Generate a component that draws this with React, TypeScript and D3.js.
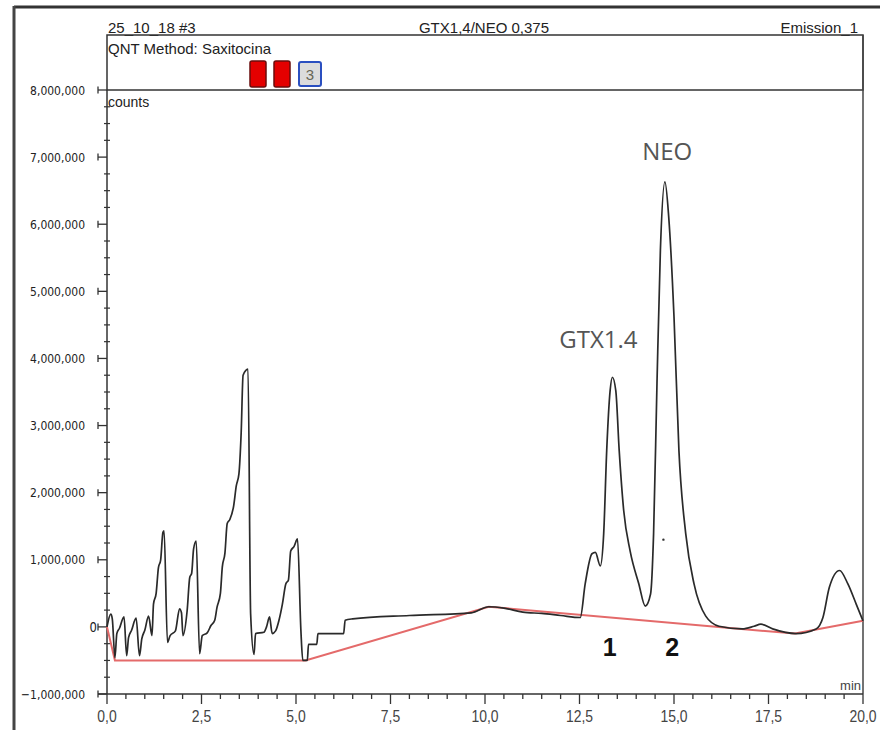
import * as d3 from 'd3';

// chromatogram values: [minutes, counts in millions]
const earlyTrace: [number, number][] = [
  [0, 0], [0.1, 0.19], [0.14, 0.12], [0.21, -0.46], [0.26, -0.1], [0.33, -0.02], [0.45, 0.15],
  [0.52, -0.43], [0.57, -0.16], [0.65, -0.05], [0.77, 0.13], [0.86, -0.43], [0.92, -0.18],
  [1.0, -0.05], [1.1, 0.16], [1.19, -0.13], [1.23, 0.34], [1.3, 0.5], [1.36, 0.88], [1.42, 1.0],
  [1.48, 1.41], [1.51, 1.43], [1.6, -0.23], [1.67, -0.13], [1.81, -0.06], [1.92, 0.27],
  [1.97, 0.21], [2.01, -0.13], [2.12, 0.24], [2.19, 0.74], [2.24, 0.8], [2.29, 1.16],
  [2.36, 1.28], [2.45, -0.4], [2.52, -0.13], [2.65, -0.09], [2.75, 0.02], [2.85, 0.1],
  [2.91, 0.29], [3.0, 0.5], [3.05, 0.89], [3.12, 1.1], [3.18, 1.54], [3.25, 1.6], [3.35, 1.8],
  [3.42, 2.1], [3.49, 2.28], [3.55, 2.9], [3.6, 3.75], [3.73, 3.84], [3.8, 0.19], [3.89, -0.41],
  [3.93, -0.1], [4.15, -0.08], [4.22, 0.0], [4.3, 0.15], [4.37, -0.1], [4.46, -0.06], [4.55, 0.1],
  [4.64, 0.34], [4.73, 0.64], [4.8, 0.7], [4.86, 1.13], [4.95, 1.2], [5.04, 1.31], [5.13, -0.06],
  [5.18, -0.5], [5.3, -0.5], [5.33, -0.26], [5.55, -0.26], [5.58, -0.1], [6.26, -0.1],
  [6.3, 0.1], [6.5, 0.12], [8.0, 0.17], [9.64, 0.21], [10.1, 0.3], [10.5, 0.28],
  [11.0, 0.22], [11.5, 0.2], [12.0, 0.17],
];

const peakTrace: [number, number][] = [
  [12.52, 0.14], [12.65, 0.64], [12.83, 1.09], [12.92, 1.11], [13.05, 0.91], [13.14, 1.39],
  [13.22, 2.63], [13.31, 3.52], [13.37, 3.72], [13.46, 3.52], [13.55, 2.63], [13.67, 1.73],
  [13.84, 1.13], [14.07, 0.64], [14.24, 0.31], [14.38, 0.49], [14.46, 1.39], [14.55, 3.63],
  [14.64, 5.61], [14.76, 6.63], [14.86, 6.11], [15.0, 4.62], [15.13, 2.63], [15.31, 1.39],
  [15.53, 0.64], [15.84, 0.16], [16.19, 0.01], [16.81, -0.03], [17.12, 0.01], [17.3, 0.04],
  [17.61, -0.03], [18.23, -0.1], [18.76, -0.03], [18.94, 0.14], [19.11, 0.59], [19.38, 0.84],
  [19.6, 0.64], [19.82, 0.34], [20.0, 0.09],
];

const baselinePoints: [number, number][] = [
  [0, 0], [0.21, -0.5], [5.25, -0.5], [10.1, 0.3], [18.2, -0.1], [20, 0.09],
];

const yTicks = [-1, 0, 1, 2, 3, 4, 5, 6, 7, 8];
const xTicks = [0, 2.5, 5, 7.5, 10, 12.5, 15, 17.5, 20];

const peakNumbers = [
  { label: '1', time: 13.3 },
  { label: '2', time: 14.95 },
];
const peakNames = [
  { label: 'GTX1.4', time: 13.0, value: 4.15 },
  { label: 'NEO', time: 14.82, value: 6.95 },
];
const strayDot: [number, number] = [14.72, 1.3];

const headerLeft = '25_10_18 #3';
const headerCenter = 'GTX1,4/NEO 0,375';
const headerRight = 'Emission_1';
const methodLabel = 'QNT Method: Saxitocina';

const W = 880;
const H = 730;
const left = 107;
const right = 863;
const plotTop = 90;
const plotBottom = 694;
const boxTop = 35;

export default function App() {
  const x = d3.scaleLinear().domain([0, 20]).range([left, right]);
  const y = d3.scaleLinear().domain([-1, 8]).range([plotBottom, plotTop]);

  const line = d3.line<[number, number]>()
    .x(d => x(d[0]))
    .y(d => y(d[1]))
    .curve(d3.curveMonotoneX);
  const straight = d3.line<[number, number]>()
    .x(d => x(d[0]))
    .y(d => y(d[1]));

  const trace = [...earlyTrace, ...peakTrace];
  const fmtCounts = d3.format(',');
  const fmtMin = (v: number) => d3.format('.1f')(v).replace('.', ',');

  const yMinor = d3.range(-1, 8.001, 0.25).filter(v => Math.abs(v - Math.round(v)) > 0.01);
  const xMinor = d3.range(0, 20.001, 0.5).filter(v => Math.abs(v / 2.5 - Math.round(v / 2.5)) > 0.01);

  const sans = 'Liberation Sans, Arial, sans-serif';

  return (
    <svg width={W} height={H} style={{ position: 'absolute', left: 0, top: 0, background: '#fff' }}>
      {/* outer frame */}
      <line x1={14} x2={W} y1={7} y2={7} stroke="#333" strokeWidth={3} />
      <line x1={14} x2={14} y1={6} y2={H} stroke="#444" strokeWidth={3} />

      {/* header */}
      <g fontFamily={sans} fontSize={15} fill="#222">
        <text x={108} y={33}>{headerLeft}</text>
        <text x={484} y={33} textAnchor="middle">{headerCenter}</text>
        <text x={858} y={33} textAnchor="end">{headerRight}</text>
        <text x={108} y={54}>{methodLabel}</text>
      </g>
      <rect x={left} y={boxTop} width={right - left} height={plotTop - boxTop} fill="none" stroke="#333" strokeWidth={1.5} />
      <rect x={250} y={61} width={16} height={26} rx={2} fill="#e40000" stroke="#6a0c0c" strokeWidth={1.5} />
      <rect x={274} y={61} width={16} height={26} rx={2} fill="#e40000" stroke="#6a0c0c" strokeWidth={1.5} />
      <rect x={299} y={62} width={22} height={24} rx={2} fill="#dcdcdc" stroke="#2a4fc0" strokeWidth={2} />
      <text x={310} y={80} textAnchor="middle" fontFamily={sans} fontSize={15} fill="#665">3</text>

      {/* plot frame */}
      <line x1={right} x2={right} y1={boxTop} y2={plotBottom} stroke="#444" strokeWidth={1.5} />
      <line x1={left} x2={left} y1={plotTop} y2={plotBottom} stroke="#333" strokeWidth={1.5} />
      <line x1={98} x2={right} y1={plotBottom} y2={plotBottom} stroke="#333" strokeWidth={1.5} />
      <text x={108} y={107} fontFamily={sans} fontSize={14} fill="#222">counts</text>

      {/* y axis ticks */}
      <g stroke="#333" strokeWidth={1.3}>
        {yTicks.map(v => (
          <g key={v}>
            <line x1={98} x2={left} y1={y(v)} y2={y(v)} />
            <line x1={98} x2={98} y1={y(v) - 3.5} y2={y(v) + 3.5} />
          </g>
        ))}
        {yMinor.map(v => (
          <line key={v} x1={104} x2={110} y1={y(v)} y2={y(v)} strokeWidth={1.2} />
        ))}
      </g>
      <g fontFamily="DejaVu Sans, sans-serif" fontSize={13} fill="#222">
        {yTicks.map(v => (
          v === 0
            ? <text key={v} transform={`translate(97,${y(v)}) scale(0.83,1)`} dy="0.36em" textAnchor="end" fontSize={14}>0</text>
            : <text key={v} transform={`translate(85,${y(v)}) scale(0.83,1)`} dy="0.36em" textAnchor="end">{fmtCounts(v * 1e6)}</text>
        ))}
      </g>

      {/* x axis ticks */}
      <g stroke="#333" strokeWidth={1.3}>
        {xTicks.map(v => (
          <line key={v} x1={x(v)} x2={x(v)} y1={plotBottom} y2={plotBottom + 10} />
        ))}
        {xMinor.map(v => (
          <line key={v} x1={x(v)} x2={x(v)} y1={plotBottom} y2={plotBottom + 5} strokeWidth={1.3} />
        ))}
      </g>
      <g fontFamily={sans} fontSize={17} fill="#444">
        {xTicks.map(v => (
          <text key={v} transform={`translate(${x(v)},722) scale(0.82,1)`} textAnchor="middle">{fmtMin(v)}</text>
        ))}
      </g>
      <text x={861} y={690} textAnchor="end" fontFamily={sans} fontSize={13} fill="#444">min</text>

      {/* baseline and trace */}
      <path d={straight(baselinePoints) ?? ''} fill="none" stroke="#e46a6a" strokeWidth={2} />
      <path d={line(trace) ?? ''} fill="none" stroke="#2a2a2a" strokeWidth={1.7} strokeLinejoin="round" />
      <circle cx={x(strayDot[0])} cy={y(strayDot[1])} r={1.2} fill="#333" />

      {/* annotations */}
      <g fontFamily="Open Sans, Noto Sans, sans-serif" fontSize={24} fill="#555">
        {peakNames.map(p => (
          <text key={p.label} x={x(p.time)} y={y(p.value)} textAnchor="middle">{p.label}</text>
        ))}
      </g>
      <g fontFamily={sans} fontSize={25} fontWeight="bold" fill="#111">
        {peakNumbers.map(p => (
          <text key={p.label} x={x(p.time)} y={656} textAnchor="middle">{p.label}</text>
        ))}
      </g>
    </svg>
  );
}
